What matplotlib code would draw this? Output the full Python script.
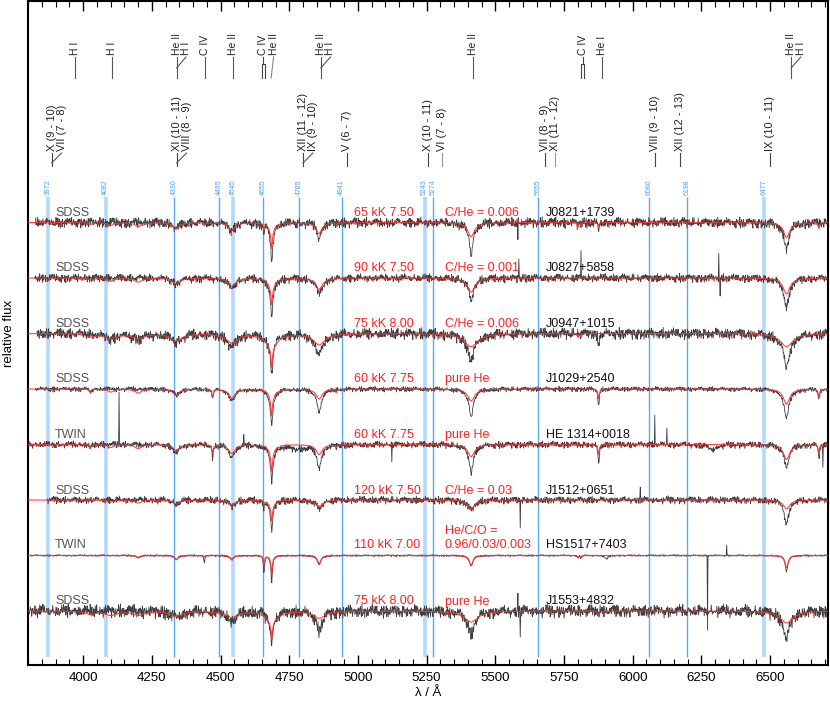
import matplotlib
matplotlib.use('Agg')
import matplotlib.pyplot as plt
import numpy as np

plt.rcParams['font.family'] = ['Liberation Sans', 'DejaVu Sans']

# ---------------------------------------------------------------- data
wl_min, wl_max = 3799, 6711

instrument = ['SDSS', 'SDSS', 'SDSS', 'SDSS', 'TWIN', 'SDSS', 'TWIN', 'SDSS']
star_name = ['J0821+1739', 'J0827+5858', 'J0947+1015', 'J1029+2540',
             'HE 1314+0018', 'J1512+0651', 'HS1517+7403', 'J1553+4832']
model_par = ['65 kK 7.50', '90 kK 7.50', '75 kK 8.00', '60 kK 7.75',
             '60 kK 7.75', '120 kK 7.50', '110 kK 7.00', '75 kK 8.00']
model_abund = ['C/He = 0.006', 'C/He = 0.001', 'C/He = 0.006', 'pure He',
               'pure He', 'C/He = 0.03', 'He/C/O =\n0.96/0.03/0.003', 'pure He']

# continuum level of each spectrum (relative flux incl. offset)
row_offset = [4.425, 3.87, 3.315, 2.76, 2.205, 1.65, 1.095, 0.54]
obs_start = [3825, 3822, 3830, 3825, 3800, 3867, 3806, 3800]
noise_level = [0.055, 0.045, 0.06, 0.027, 0.037, 0.04, 0.01, 0.07]

# absorption lines: (wavelength, depth, half width) for model and observation
model_lines = [
    [(4026, .02, 8), (4100, .03, 12), (4200, .04, 14), (4339, .06, 14), (4441, .03, 2),
     (4471, .03, 3), (4541, .08, 14), (4658, .06, 2), (4686, .17, 3), (4686, .09, 12),
     (4859, .11, 13), (5412, .14, 15), (5801, .05, 1.5), (5812, .05, 1.5), (5876, .04, 2),
     (6560, .15, 14), (6678, .06, 3)],
    [(4026, .02, 10), (4100, .03, 14), (4200, .04, 16), (4339, .06, 16), (4541, .08, 16),
     (4686, .17, 3), (4686, .10, 14), (4859, .11, 15), (5412, .14, 17), (6560, .16, 15)],
    [(4026, .03, 20), (4100, .05, 25), (4200, .05, 25), (4339, .07, 25), (4541, .09, 25),
     (4686, .20, 3), (4686, .14, 25), (4859, .11, 25), (5412, .13, 30), (5801, .04, 1.5),
     (5812, .04, 1.5), (6560, .13, 28)],
    [(3889, .03, 3), (4026, .04, 3), (4100, .03, 12), (4200, .04, 14), (4339, .06, 14),
     (4471, .08, 3), (4541, .09, 14), (4686, .17, 3), (4686, .10, 12), (4713, .02, 2),
     (4859, .10, 13), (4921, .03, 3), (5412, .12, 15), (5876, .10, 3), (6560, .15, 14),
     (6678, .09, 3)],
    [(3889, .03, 3), (4026, .04, 3), (4100, .03, 12), (4200, .04, 14), (4339, .06, 14),
     (4471, .08, 3), (4541, .09, 14), (4686, .17, 3), (4686, .10, 12), (4713, .02, 2),
     (4859, .10, 13), (4921, .03, 3), (5412, .12, 15), (5876, .10, 3), (6560, .15, 14),
     (6678, .09, 3)],
    [(4100, .02, 12), (4200, .03, 14), (4339, .04, 14), (4541, .05, 14), (4658, .03, 2),
     (4686, .14, 3), (4686, .07, 12), (4859, .07, 13), (5412, .09, 15), (6560, .09, 14)],
    [(4200, .02, 8), (4339, .04, 8), (4441, .02, 2), (4541, .04, 8), (4658, .09, 2.5),
     (4686, .15, 2.5), (4686, .04, 8), (4859, .08, 8), (5412, .10, 8), (5801, .02, 2),
     (5812, .02, 2), (6560, .12, 7)],
    [(4026, .03, 20), (4100, .04, 25), (4200, .04, 25), (4339, .05, 25), (4471, .03, 3),
     (4541, .06, 25), (4686, .18, 3), (4686, .11, 25), (4859, .07, 25), (5412, .11, 30),
     (5876, .06, 3), (6560, .12, 28)],
]

obs_lines = [
    [(4339, .06, 14), (4541, .08, 14), (4658, .08, 3), (4686, .30, 4), (4686, .10, 14),
     (4859, .11, 6), (4859, .06, 16), (5412, .20, 6), (5412, .12, 18), (5801, .04, 2),
     (5876, .08, 3), (6560, .16, 8), (6560, .10, 20)],
    [(4339, .06, 16), (4541, .10, 16), (4686, .30, 4), (4686, .12, 14), (4859, .15, 15),
     (5412, .15, 6), (5412, .10, 18), (6560, .18, 8), (6560, .12, 20)],
    [(4100, .05, 25), (4200, .05, 25), (4339, .08, 25), (4541, .13, 20), (4686, .28, 4),
     (4686, .13, 20), (4859, .16, 15), (4859, .05, 30), (5412, .16, 12), (5412, .10, 30),
     (5876, .12, 3), (6560, .22, 10), (6560, .12, 30)],
    [(4026, .04, 3), (4339, .06, 14), (4471, .08, 3), (4541, .11, 14), (4686, .25, 4),
     (4686, .12, 14), (4859, .16, 8), (4859, .07, 18), (5412, .18, 7), (5412, .10, 18),
     (5876, .17, 3), (6560, .19, 8), (6560, .11, 18), (6678, .10, 3)],
    [(4026, .05, 3), (4339, .08, 14), (4471, .13, 3), (4541, .12, 14), (4686, .25, 4),
     (4686, .12, 14), (4780, .04, 40), (4859, .16, 8), (4859, .07, 18), (5412, .18, 7),
     (5412, .10, 18), (5876, .20, 3), (6290, .05, 20), (6560, .14, 8), (6560, .09, 18),
     (6678, .12, 3)],
    [(4339, .04, 14), (4541, .06, 14), (4658, .05, 3), (4686, .24, 4), (4686, .08, 12),
     (4859, .09, 13), (5412, .10, 15), (6560, .16, 8), (6560, .08, 16)],
    [(4200, .02, 8), (4339, .04, 8), (4441, .09, 1.5), (4541, .04, 8), (4658, .17, 2.5),
     (4686, .23, 2.5), (4686, .05, 8), (4859, .09, 8), (5412, .10, 8), (5801, .03, 2),
     (5812, .03, 2), (5905, .04, 6), (6560, .16, 6)],
    [(4339, .06, 25), (4541, .10, 20), (4686, .24, 4), (4686, .10, 20), (4859, .15, 10),
     (4859, .05, 25), (5412, .14, 10), (5412, .10, 25), (6560, .19, 10), (6560, .10, 25)],
]

# single-pixel artefacts (wavelength, flux jump; + is upward)
spikes = [
    [(5583, -.15)],
    [(5586, .20), (5812, .25), (6314, .26), (6318, -.20)],
    [],
    [],
    [(4130, .53), (4585, .10), (5123, -.15), (6081, .28), (6124, .15), (6693, -.20)],
    [(5590, -.25), (6027, .15)],
    [(6273, -.75), (6342, .10)],
    [(5583, .15), (5590, -.20)],
]

# hand-typed jitter pattern used for the photon noise look
noise_a = [0.42, -0.81, 0.13, 0.97, -0.35, -0.62, 0.28, 0.71, -0.94, 0.05, 0.56, -0.18,
           -0.77, 0.89, -0.41, 0.22, 0.64, -0.99, 0.37, -0.08, 0.83, -0.53, -0.26, 0.91,
           -0.67, 0.16, 0.48, -0.86, 0.31, 0.74, -0.12, -0.58, 0.95, -0.39, 0.09, -0.72,
           0.61, 0.25, -0.93, 0.44, -0.21, 0.79, -0.47, 0.03, 0.68, -0.84, 0.19, -0.31,
           0.87, -0.63, 0.52, -0.05, -0.96, 0.35, 0.77, -0.28, 0.11, -0.69, 0.58, -0.15, 0.92]
noise_b = [-0.55, 0.73, 0.18, -0.91, 0.46, -0.24, 0.85, -0.66, 0.07, 0.39, -0.82, 0.61,
           -0.13, 0.94, -0.45, 0.27, -0.74, 0.52, 0.02, -0.97, 0.69, -0.33, 0.15, 0.81,
           -0.59, -0.09, 0.47, -0.88, 0.36, 0.63, -0.20, -0.71, 0.99, -0.43, 0.12, 0.57,
           -0.79, 0.30, -0.04, 0.76, -0.61, 0.41, -0.17, -0.89, 0.66, 0.23, -0.51]

# marked wavelengths (blue)
blue_wl = [3872, 4082, 4330, 4495, 4545, 4655, 4785, 4941, 5243, 5274, 5655, 6060, 6198, 6477]
blue_wide = [1, 1, 0, 0, 1, 0, 0, 0, 1, 0, 0, 0, 0, 1]

# line identifications, top block: (label wavelengths, labels, stem type)
top_ids = [
    ([3970], ['H I'], 'single'),
    ([4103], ['H I'], 'single'),
    ([4340, 4374], ['He II', 'H I'], 'pair'),
    ([4443], ['C IV'], 'single'),
    ([4544], ['He II'], 'single'),
    ([4656], ['C IV'], 'double'),
    ([4693], ['He II'], 'slant'),
    ([4865, 4900], ['He II', 'H I'], 'pair'),
    ([5420], ['He II'], 'single'),
    ([5818], ['C IV'], 'double'),
    ([5887], ['He I'], 'single'),
    ([6577, 6612], ['He II', 'H I'], 'pair'),
]
# ultra-high excitation transitions, lower block
uhe_ids = [
    ([3885, 3921], ['X (9 - 10)', 'VII (7 - 8)'], 'pair'),
    ([4340, 4376], ['XI (10 - 11)', 'VIII (8 - 9)'], 'pair'),
    ([4800, 4836], ['XII (11 - 12)', 'IX (9 - 10)'], 'pair'),
    ([4959], ['V (6 - 7)'], 'single'),
    ([5256], ['X (10 - 11)'], 'single'),
    ([5305], ['VI (7 - 8)'], 'light'),
    ([5681], ['VII (8 - 9)'], 'single'),
    ([5717], ['XI (11 - 12)'], 'light'),
    ([6081], ['VIII (9 - 10)'], 'single'),
    ([6172], ['XII (12 - 13)'], 'single'),
    ([6500], ['IX (10 - 11)'], 'single'),
]


def absorption(wl, lines):
    prof = np.zeros_like(wl)
    for c, d, w in lines:
        prof += d / (1.0 + ((wl - c) / w) ** 2)
    return prof


fig = plt.figure(figsize=(8.3, 7.04), dpi=100)
ax = fig.add_axes([28 / 830, 39 / 704, 800 / 830, 664 / 704])
ax.set_xlim(wl_min, wl_max)
ax.set_ylim(0, 6.64)

# blue marker lines
for w, wide in zip(blue_wl, blue_wide):
    ax.vlines(w, 0.08, 4.68, colors='#b4d8fa' if wide else '#55a9f5',
              lw=2.6 if wide else 1, zorder=1)
    ax.text(w, 4.78, str(w), rotation=90, ha='center', va='center',
            fontsize=5, color='#4aa3f7')

wl = np.arange(wl_min, wl_max, 1.7)
na = np.array(noise_a)
nb = np.array(noise_b)
idx = np.arange(len(wl))

for k in range(len(star_name)):
    off = row_offset[k]
    model = off - absorption(wl, model_lines[k])
    noise = 0.6 * na[(idx + 7 * k) % len(na)] + 0.5 * nb[(3 * idx + 11 * k) % len(nb)]
    obs = off - absorption(wl, obs_lines[k]) + noise_level[k] * noise
    for sw, amp in spikes[k]:
        j = np.argmin(abs(wl - sw))
        obs[j] += amp
    m = wl >= obs_start[k]
    ax.plot(wl[m], obs[m], color='#404040', lw=0.6, zorder=2)
    ax.plot(wl, model, color='#ff3030', lw=0.8, alpha=0.9, zorder=3)

    ty = off + (0.11 if k == 6 else 0.095)
    ax.text(3897, ty, instrument[k], fontsize=9, color='#555555', va='center')
    ax.text(4985, ty, model_par[k], fontsize=9, color='#ff2020', va='center')
    ab = model_abund[k].split('\n')
    ax.text(5316, ty, ab[-1], fontsize=9, color='#ff2020', va='center')
    if len(ab) > 1:
        ax.text(5316, ty + 0.14, ab[0], fontsize=9, color='#ff2020', va='center')
    ax.text(5684, ty, star_name[k], fontsize=9, color='#111111', va='center')

# top identifications
for xs, labs, kind in top_ids:
    x0 = xs[0]
    for x, lab in zip(xs, labs):
        ax.text(x, 6.10, lab, rotation=90, ha='center', va='bottom', fontsize=7.5, color='#222222')
    if kind == 'single':
        ax.plot([x0, x0], [5.87, 6.08], color='#555555', lw=0.8)
    elif kind == 'pair':
        ax.plot([x0, x0], [5.87, 6.08], color='#555555', lw=0.8)
        ax.plot([x0, xs[1]], [5.97, 6.08], color='#555555', lw=0.8)
    elif kind == 'double':
        ax.plot([x0 - 5, x0 - 5, x0 + 5, x0 + 5], [5.87, 6.01, 6.01, 5.87], color='#444444', lw=0.8)
        ax.plot([x0, x0], [6.01, 6.08], color='#444444', lw=0.8)
    elif kind == 'slant':
        ax.plot([x0 - 9, x0], [5.87, 6.08], color='#888888', lw=0.8)

# lower identifications
for xs, labs, kind in uhe_ids:
    x0 = xs[0]
    for x, lab in zip(xs, labs):
        ax.text(x, 5.14, lab, rotation=90, ha='center', va='bottom', fontsize=8, color='#222222')
    col = '#999999' if kind == 'light' else '#444444'
    ax.plot([x0, x0], [4.99, 5.12], color=col, lw=0.8)
    if kind == 'pair':
        ax.plot([x0, xs[1]], [5.02, 5.12], color='#555555', lw=0.8)

ax.set_xticks(np.arange(4000, 6501, 250))
ax.set_xticks(np.arange(3800, 6711, 50), minor=True)
ax.set_yticks([])
ax.tick_params(axis='x', which='both', direction='in', top=True, bottom=True, labelsize=9.5, pad=5)
ax.tick_params(axis='x', which='major', length=7, width=1)
ax.tick_params(axis='x', which='minor', length=4, width=0.8)
for s in ax.spines.values():
    s.set_linewidth(1.5)

ax.set_xlabel('λ / Å', fontsize=9.5, labelpad=2)
fig.text(9 / 830, 0.527, 'relative flux', rotation=90, ha='center', va='center', fontsize=9.5)

fig.savefig('out.png', dpi=100)
